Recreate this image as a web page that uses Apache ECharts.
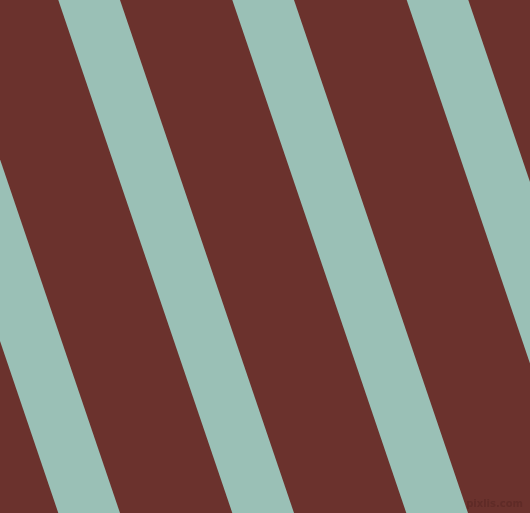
<!DOCTYPE html>
<html>
<head>
<meta charset="utf-8">
<style>html,body{margin:0;padding:0;background:#6B322D;}#c{width:530px;height:513px;}</style>
<script src="https://cdn.jsdelivr.net/npm/echarts@6/dist/echarts.min.js"></script>
</head>
<body>
<div id="c"></div>
<script>
// stripe edges (x in px) at the top edge (y = 0)
var stripeTopStart = [-115.7, 58.3, 232.3, 406.7];
var stripeTopEnd = [-54.0, 120.0, 294.0, 468.3];
// horizontal drift of each stripe from top (y=0) to bottom (y=513)
var stripeDrift = [174, 174, 174, 174];
var canvasW = 530, canvasH = 513;

var data = stripeTopStart.map(function (s, i) {
  return [s, stripeTopEnd[i], stripeDrift[i]];
});

var chart = echarts.init(document.getElementById('c'), null, {renderer: 'canvas'});
chart.setOption({
  backgroundColor: '#6B322D',
  animation: false,
  grid: {left: 0, right: 0, top: 0, bottom: 0},
  xAxis: {type: 'value', min: 0, max: canvasW, show: false},
  yAxis: {type: 'value', min: 0, max: canvasH, inverse: true, show: false},
  series: [{
    type: 'custom',
    clip: true,
    data: data,
    renderItem: function (params, api) {
      var a = api.value(0), b = api.value(1), d = api.value(2);
      var pts = [
        api.coord([a, 0]),
        api.coord([b, 0]),
        api.coord([b + d, canvasH]),
        api.coord([a + d, canvasH])
      ];
      return {
        type: 'polygon',
        shape: {points: pts},
        style: {fill: '#9AC0B6', stroke: null}
      };
    }
  }],
  graphic: [{
    type: 'text',
    right: 7,
    bottom: 4,
    style: {
      text: 'pixlis.com',
      fill: '#5F2B27',
      font: 'bold 10px "DejaVu Sans", sans-serif'
    }
  }]
});
</script>
</body>
</html>
